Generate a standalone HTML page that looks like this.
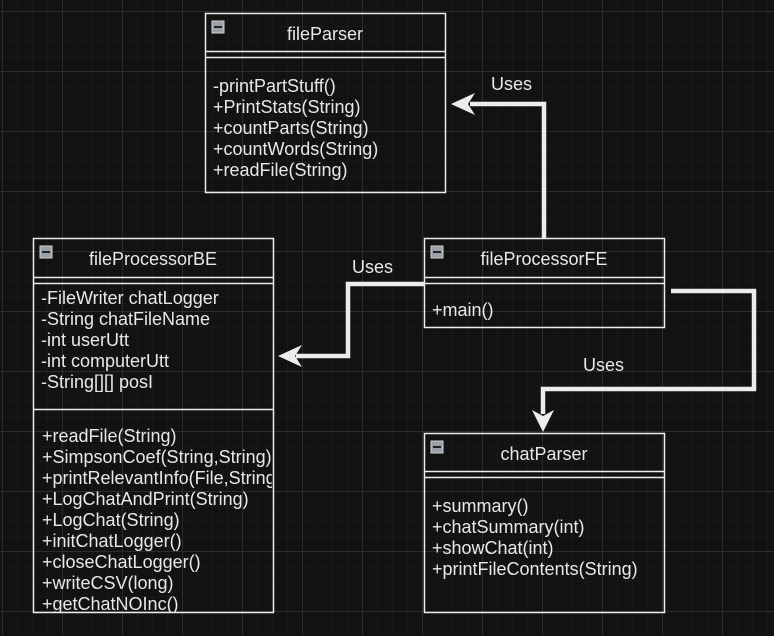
<!DOCTYPE html>
<html><head><meta charset="utf-8"><style>
html,body{margin:0;padding:0;background:#121212;}
svg{display:block;}
text{font-family:"Liberation Sans",sans-serif;font-size:18px;fill:#e8e8e8;}
</style></head><body>
<svg width="774" height="636" viewBox="0 0 774 636" xmlns="http://www.w3.org/2000/svg">
<defs>
<pattern id="minor" width="15" height="15" patternUnits="userSpaceOnUse" x="2" y="11">
<path d="M0 0H15M0 0V15" stroke="#1f1f1f" stroke-width="1" fill="none"/>
</pattern>
<pattern id="major" width="60" height="60" patternUnits="userSpaceOnUse" x="2" y="11">
<path d="M0 0.5H60M0.5 0V60" stroke="#2c2c2c" stroke-width="1" fill="none"/>
</pattern>
<g id="icon"><rect x="0" y="0" width="12" height="12" fill="#9aa0a8" stroke="#d0d0d0" stroke-width="1"/><rect x="2" y="5" width="8" height="2" fill="#222"/></g>
</defs>
<rect width="774" height="636" fill="#121212"/>
<rect width="774" height="636" fill="url(#minor)"/>
<rect width="774" height="636" fill="url(#major)"/>

<g fill="none" stroke="#ececec" stroke-width="1.5">
<rect x="205.5" y="13.5" width="240" height="179" fill="none"/>
<line x1="205" y1="51.5" x2="445" y2="51.5"/><line x1="205" y1="57.5" x2="445" y2="57.5"/>
<rect x="33.5" y="238.5" width="240" height="374"/>
<line x1="33" y1="277.5" x2="273" y2="277.5"/><line x1="33" y1="283.5" x2="273" y2="283.5"/>
<line x1="33" y1="409.5" x2="273" y2="409.5"/>
<rect x="424.5" y="238.5" width="240" height="89"/>
<line x1="424" y1="277.5" x2="664" y2="277.5"/><line x1="424" y1="283.5" x2="664" y2="283.5"/>
<rect x="424.5" y="433.5" width="240" height="179"/>
<line x1="424" y1="471.5" x2="664" y2="471.5"/><line x1="424" y1="477.5" x2="664" y2="477.5"/>
</g>

<use href="#icon" x="212" y="21"/>
<use href="#icon" x="40" y="246"/>
<use href="#icon" x="431" y="246"/>
<use href="#icon" x="431" y="441"/>

<g text-anchor="middle">
<text x="325" y="40">fileParser</text>
<text x="153" y="265">fileProcessorBE</text>
<text x="544" y="265">fileProcessorFE</text>
<text x="544" y="460">chatParser</text>
</g>

<text x="213" y="92">-printPartStuff()</text>
<text x="213" y="113">+PrintStats(String)</text>
<text x="213" y="134">+countParts(String)</text>
<text x="213" y="155">+countWords(String)</text>
<text x="213" y="176">+readFile(String)</text>

<text x="41" y="304">-FileWriter chatLogger</text>
<text x="41" y="325">-String chatFileName</text>
<text x="41" y="346">-int userUtt</text>
<text x="41" y="367">-int computerUtt</text>
<text x="41" y="388">-String[][] posI</text>

<svg x="33" y="410" width="239" height="202" overflow="hidden">
<text x="9" y="32">+readFile(String)</text>
<text x="9" y="53">+SimpsonCoef(String,String)</text>
<text x="9" y="74">+printRelevantInfo(File,String)</text>
<text x="9" y="95">+LogChatAndPrint(String)</text>
<text x="9" y="116">+LogChat(String)</text>
<text x="9" y="137">+initChatLogger()</text>
<text x="9" y="158">+closeChatLogger()</text>
<text x="9" y="179">+writeCSV(long)</text>
<text x="9" y="200">+getChatNOInc()</text>
</svg>

<text x="432" y="316">+main()</text>

<text x="432" y="512">+summary()</text>
<text x="432" y="533">+chatSummary(int)</text>
<text x="432" y="554">+showChat(int)</text>
<text x="432" y="575">+printFileContents(String)</text>

<g fill="none" stroke="#ececec" stroke-width="4.5" stroke-linejoin="miter">
<polyline points="544,238 544,104 470,104"/>
<polyline points="424,284 348,284 348,356 296,356"/>
<polyline points="671,291 754,291 754,389 543,389 543,414"/>
</g>
<g fill="#ececec">
<path d="M451,104 L475,93 L468,104 L475,115 Z"/>
<path d="M278,356 L302,345 L295,356 L302,367 Z"/>
<path d="M543,432 L532,410 L543,416 L554,410 Z"/>
</g>

<text x="491" y="90">Uses</text>
<text x="352" y="273">Uses</text>
<text x="583" y="371">Uses</text>
</svg>
</body></html>
